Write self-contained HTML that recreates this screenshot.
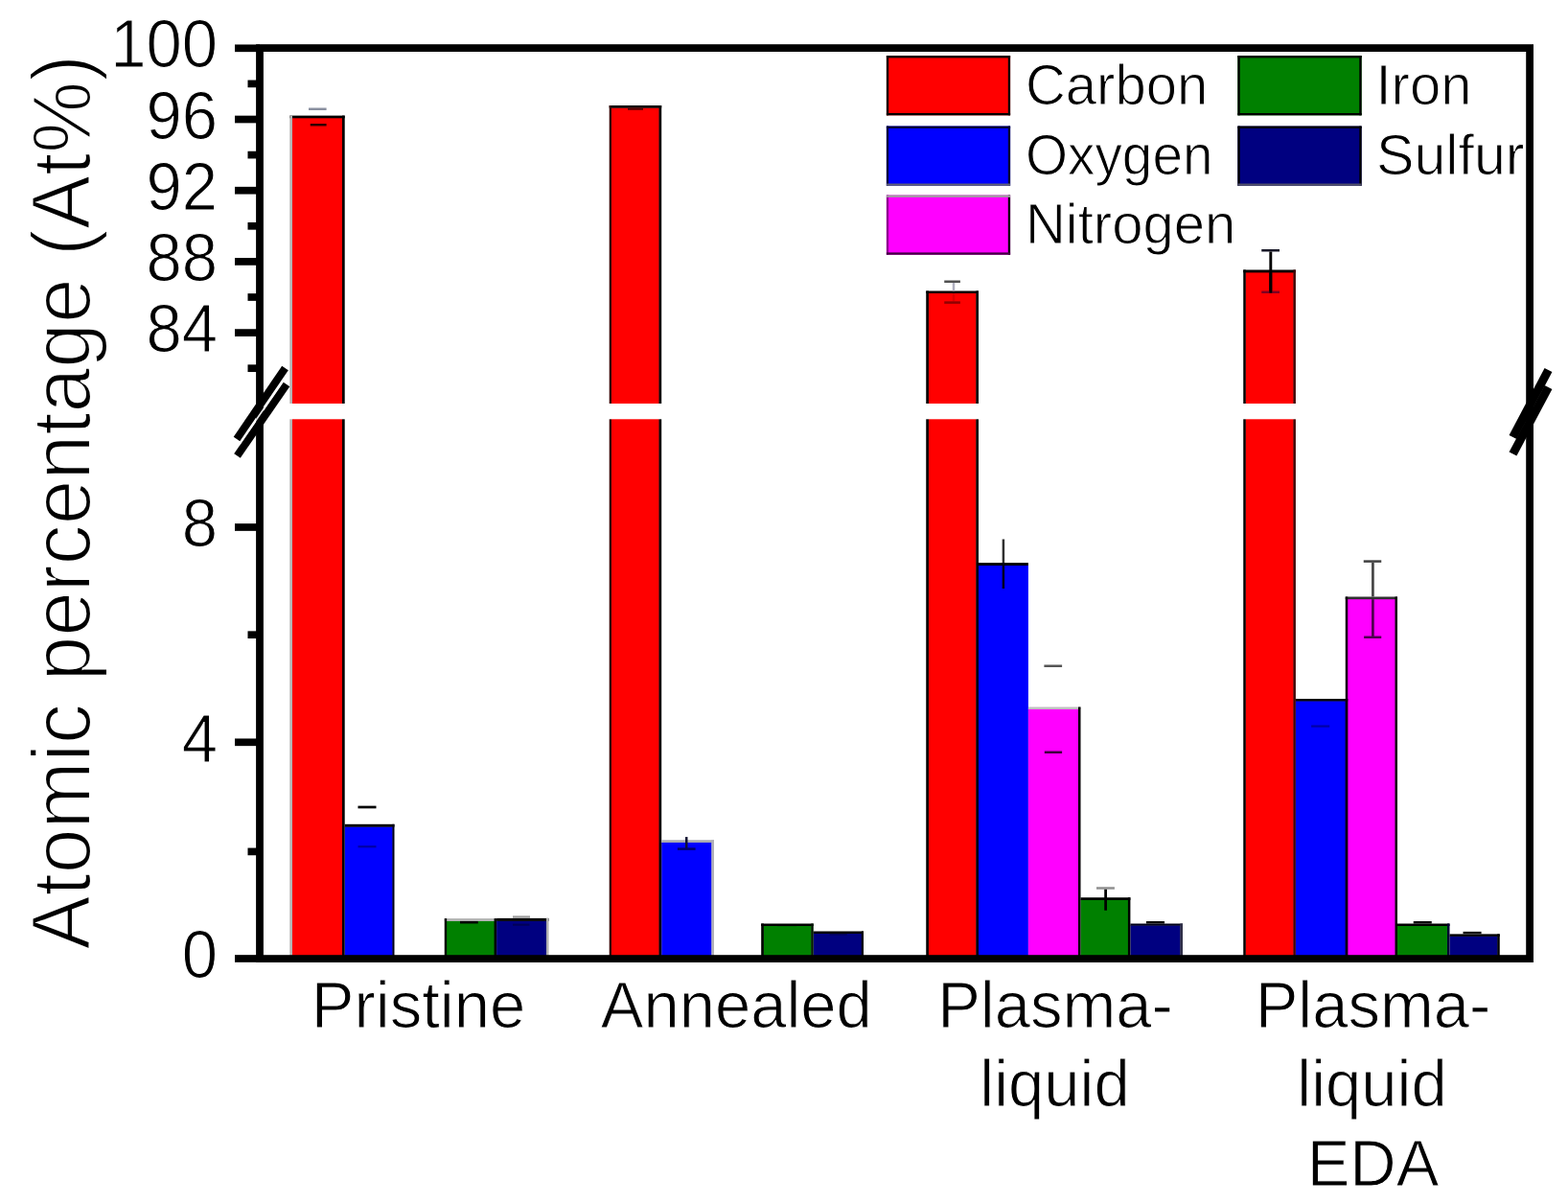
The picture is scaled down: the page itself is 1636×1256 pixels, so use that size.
<!DOCTYPE html>
<html lang="en"><head><meta charset="utf-8"><title>Atomic percentage chart</title>
<style>
html,body{margin:0;padding:0;background:#fff;}
body{width:1636px;height:1256px;overflow:hidden;}
svg{display:block;filter:blur(0.55px);}
text{font-family:"Liberation Sans",sans-serif;fill:#000;}
.tk{font-size:67px;stroke:#fff;stroke-width:1px;}
.lg{font-size:58px;stroke:#fff;stroke-width:1px;}
.yt{font-size:84px;stroke:#fff;stroke-width:2px;}
</style></head><body>
<svg width="1636" height="1256" viewBox="0 0 1636 1256">
<rect x="0" y="0" width="1636" height="1256" fill="#ffffff"/>
<g id="bars">
<rect x="304.60" y="122.90" width="52.80" height="877.20" fill="#ff0000"/>
<rect x="359.70" y="862.30" width="50.10" height="137.80" fill="#0000ff"/>
<rect x="465.75" y="960.60" width="50.25" height="39.50" fill="#008000"/>
<rect x="518.10" y="960.50" width="52.30" height="39.60" fill="#000080"/>
<rect x="637.60" y="112.30" width="50.30" height="887.80" fill="#ff0000"/>
<rect x="690.20" y="878.60" width="52.50" height="121.50" fill="#0000ff"/>
<rect x="796.50" y="965.60" width="50.15" height="34.50" fill="#008000"/>
<rect x="848.75" y="973.60" width="50.40" height="26.50" fill="#000080"/>
<rect x="968.55" y="305.60" width="50.15" height="694.50" fill="#ff0000"/>
<rect x="1021.00" y="589.60" width="51.90" height="410.50" fill="#0000ff"/>
<rect x="1072.90" y="739.60" width="52.50" height="260.50" fill="#ff00ff"/>
<rect x="1127.50" y="938.60" width="49.80" height="61.50" fill="#008000"/>
<rect x="1179.40" y="965.20" width="52.30" height="34.90" fill="#000080"/>
<rect x="1299.35" y="284.00" width="50.45" height="716.10" fill="#ff0000"/>
<rect x="1351.90" y="731.10" width="52.30" height="269.00" fill="#0000ff"/>
<rect x="1405.85" y="624.80" width="50.05" height="375.30" fill="#ff00ff"/>
<rect x="1458.00" y="965.60" width="52.40" height="34.50" fill="#008000"/>
<rect x="1512.50" y="976.50" width="50.15" height="23.60" fill="#000080"/>
<rect x="302.30" y="120.60" width="57.40" height="2.70" fill="#000000"/>
<rect x="302.30" y="120.60" width="2.70" height="879.50" fill="#b4b4b4"/>
<rect x="357.00" y="120.60" width="2.70" height="879.50" fill="#000000"/>
<rect x="359.70" y="859.80" width="51.80" height="2.90" fill="#000000"/>
<rect x="409.40" y="859.80" width="2.10" height="140.30" fill="#000018"/>
<rect x="463.75" y="958.10" width="54.35" height="2.90" fill="#b4b4b4"/>
<rect x="463.75" y="958.10" width="2.40" height="42.00" fill="#000000"/>
<rect x="515.60" y="958.10" width="2.50" height="42.00" fill="#000000"/>
<rect x="518.10" y="957.90" width="54.40" height="3.00" fill="#000000"/>
<rect x="570.00" y="957.90" width="2.50" height="42.20" fill="#b0b0b0"/>
<rect x="635.70" y="110.00" width="54.50" height="2.70" fill="#000000"/>
<rect x="635.70" y="110.00" width="2.30" height="890.10" fill="#300000"/>
<rect x="687.50" y="110.00" width="2.70" height="890.10" fill="#000000"/>
<rect x="690.20" y="876.30" width="54.80" height="2.70" fill="#a8a8b0"/>
<rect x="742.30" y="876.30" width="2.70" height="123.80" fill="#b0b0b8"/>
<rect x="794.20" y="963.50" width="54.55" height="2.50" fill="#000000"/>
<rect x="794.20" y="963.50" width="2.70" height="36.60" fill="#000000"/>
<rect x="846.25" y="963.50" width="2.50" height="36.60" fill="#001800"/>
<rect x="848.75" y="971.50" width="52.25" height="2.50" fill="#000000"/>
<rect x="898.75" y="971.50" width="2.25" height="28.60" fill="#000000"/>
<rect x="966.25" y="303.50" width="54.75" height="2.50" fill="#000000"/>
<rect x="966.25" y="303.50" width="2.70" height="696.60" fill="#000000"/>
<rect x="1018.30" y="303.50" width="2.70" height="696.60" fill="#000000"/>
<rect x="1021.00" y="587.10" width="51.90" height="2.90" fill="#000000"/>
<rect x="1072.90" y="737.50" width="54.60" height="2.50" fill="#c0c0c0"/>
<rect x="1125.00" y="737.50" width="2.50" height="262.60" fill="#000000"/>
<rect x="1127.50" y="936.25" width="51.90" height="2.75" fill="#000000"/>
<rect x="1176.90" y="936.25" width="2.50" height="63.85" fill="#000000"/>
<rect x="1179.40" y="963.50" width="54.60" height="2.10" fill="#000018"/>
<rect x="1231.30" y="963.50" width="2.70" height="36.60" fill="#303048"/>
<rect x="1297.25" y="281.50" width="54.65" height="2.90" fill="#000000"/>
<rect x="1297.25" y="281.50" width="2.50" height="718.60" fill="#000000"/>
<rect x="1349.40" y="281.50" width="2.50" height="718.60" fill="#400000"/>
<rect x="1351.90" y="729.00" width="54.30" height="2.50" fill="#000000"/>
<rect x="1403.80" y="729.00" width="2.40" height="271.10" fill="#100018"/>
<rect x="1403.75" y="622.50" width="54.25" height="2.70" fill="#303030"/>
<rect x="1403.75" y="622.50" width="2.50" height="377.60" fill="#0c000c"/>
<rect x="1455.50" y="622.50" width="2.50" height="377.60" fill="#000000"/>
<rect x="1458.00" y="963.50" width="54.50" height="2.50" fill="#000000"/>
<rect x="1510.00" y="963.50" width="2.50" height="36.60" fill="#000030"/>
<rect x="1512.50" y="974.40" width="52.25" height="2.50" fill="#000000"/>
<rect x="1562.25" y="974.40" width="2.50" height="25.70" fill="#000000"/>
</g>
<g id="bar-breaks">
<rect x="301.30" y="421.00" width="59.40" height="16.30" fill="#ffffff"/>
<rect x="634.70" y="421.00" width="56.50" height="16.30" fill="#ffffff"/>
<rect x="965.25" y="421.00" width="56.75" height="16.30" fill="#ffffff"/>
<rect x="1296.25" y="421.00" width="56.65" height="16.30" fill="#ffffff"/>
</g>
<g id="errorbars">
<rect x="322.00" y="112.50" width="18.60" height="2.50" fill="#8a90a0"/>
<rect x="323.75" y="129.00" width="16.85" height="2.50" fill="#300000"/>
<rect x="373.50" y="840.65" width="19.00" height="2.70" fill="#000000"/>
<rect x="373.50" y="882.05" width="19.00" height="2.30" fill="#0000a8"/>
<rect x="480.00" y="960.95" width="18.75" height="2.50" fill="#000000"/>
<rect x="535.00" y="955.35" width="18.00" height="2.50" fill="#a0a0a0"/>
<rect x="535.00" y="963.70" width="17.50" height="2.00" fill="#000058"/>
<rect x="655.00" y="112.75" width="16.00" height="2.00" fill="#500000"/>
<rect x="715.00" y="873.10" width="2.50" height="12.90" fill="#101030"/>
<rect x="706.90" y="884.35" width="18.70" height="2.50" fill="#000068"/>
<rect x="811.00" y="964.30" width="20.00" height="1.80" fill="#000000"/>
<rect x="865.60" y="973.95" width="18.15" height="1.60" fill="#000058"/>
<rect x="985.25" y="292.50" width="16.65" height="2.50" fill="#505050"/>
<rect x="993.75" y="295.00" width="2.50" height="8.50" fill="#b0b0c0"/>
<rect x="993.75" y="306.00" width="2.50" height="8.40" fill="#e00000"/>
<rect x="985.25" y="314.35" width="16.65" height="2.50" fill="#900000"/>
<rect x="1045.65" y="562.50" width="2.50" height="24.60" fill="#303030"/>
<rect x="1045.65" y="587.10" width="2.50" height="26.90" fill="#000018"/>
<rect x="1089.40" y="693.50" width="18.70" height="2.50" fill="#555555"/>
<rect x="1089.80" y="783.50" width="18.30" height="2.50" fill="#400040"/>
<rect x="1144.00" y="925.25" width="18.90" height="2.50" fill="#909090"/>
<rect x="1152.22" y="927.75" width="2.75" height="22.00" fill="#000000"/>
<rect x="1196.00" y="961.00" width="19.00" height="2.50" fill="#000000"/>
<rect x="1316.25" y="260.00" width="18.75" height="2.50" fill="#181828"/>
<rect x="1324.35" y="262.50" width="2.90" height="43.10" fill="#000000"/>
<rect x="1316.25" y="303.50" width="18.75" height="2.50" fill="#800020"/>
<rect x="1324.35" y="284.40" width="2.90" height="21.20" fill="#000000"/>
<rect x="1368.10" y="756.45" width="19.15" height="2.30" fill="#0000a8"/>
<rect x="1422.75" y="584.35" width="18.50" height="2.50" fill="#404040"/>
<rect x="1431.03" y="586.90" width="2.75" height="35.60" fill="#484848"/>
<rect x="1431.03" y="625.20" width="2.75" height="40.40" fill="#500050"/>
<rect x="1423.10" y="663.50" width="18.15" height="2.50" fill="#500050"/>
<rect x="1474.75" y="961.00" width="19.00" height="2.50" fill="#000000"/>
<rect x="1526.50" y="971.85" width="19.10" height="2.50" fill="#101010"/>
</g>
<g id="axes" stroke="#000" fill="none">
<rect x="271.00" y="50.10" width="1325.10" height="950.00" stroke-width="7.80"/>
<line x1="245.0" y1="50.30" x2="271.0" y2="50.30" stroke-width="7.7"/>
<line x1="245.0" y1="124.50" x2="271.0" y2="124.50" stroke-width="7.7"/>
<line x1="245.0" y1="198.70" x2="271.0" y2="198.70" stroke-width="7.7"/>
<line x1="245.0" y1="272.90" x2="271.0" y2="272.90" stroke-width="7.7"/>
<line x1="245.0" y1="347.10" x2="271.0" y2="347.10" stroke-width="7.7"/>
<line x1="258.5" y1="87.40" x2="271.0" y2="87.40" stroke-width="7.7"/>
<line x1="258.5" y1="161.60" x2="271.0" y2="161.60" stroke-width="7.7"/>
<line x1="258.5" y1="235.80" x2="271.0" y2="235.80" stroke-width="7.7"/>
<line x1="258.5" y1="310.00" x2="271.0" y2="310.00" stroke-width="7.7"/>
<line x1="258.5" y1="384.20" x2="271.0" y2="384.20" stroke-width="7.7"/>
<line x1="245.0" y1="1000.00" x2="271.0" y2="1000.00" stroke-width="7.7"/>
<line x1="245.0" y1="774.30" x2="271.0" y2="774.30" stroke-width="7.7"/>
<line x1="245.0" y1="550.00" x2="271.0" y2="550.00" stroke-width="7.7"/>
<line x1="258.5" y1="888.40" x2="271.0" y2="888.40" stroke-width="7.7"/>
<line x1="258.5" y1="662.20" x2="271.0" y2="662.20" stroke-width="7.7"/>
</g>
<g id="breaks" stroke="#000" stroke-linecap="butt">
<line x1="247.0" y1="458.0" x2="297.5" y2="384.0" stroke-width="8.0"/>
<line x1="247.5" y1="475.5" x2="299.0" y2="401.0" stroke-width="8.0"/>
<line x1="249.5" y1="463.9" x2="296.0" y2="396.2" stroke="#fff" stroke-width="1.7" stroke-opacity="0.9"/>
<line x1="1578.5" y1="456.0" x2="1615.5" y2="386.0" stroke-width="8.9"/>
<line x1="1578.5" y1="473.5" x2="1615.5" y2="404.0" stroke-width="8.9"/>
</g>
<g id="ylabels" class="tk" text-anchor="end">
<text transform="translate(227 70.3) scale(1 1.05)">100</text>
<text transform="translate(227 144.5) scale(1 1.05)">96</text>
<text transform="translate(227 218.7) scale(1 1.05)">92</text>
<text transform="translate(227 292.9) scale(1 1.05)">88</text>
<text transform="translate(227 367.1) scale(1 1.05)">84</text>
<text transform="translate(227 570.3) scale(1 1.05)">8</text>
<text transform="translate(227 795.3) scale(1 1.05)">4</text>
<text transform="translate(227 1020.3) scale(1 1.05)">0</text>
</g>
<text class="yt" text-anchor="middle" transform="translate(94.3 523.8) rotate(-90) scale(1 1.03)">Atomic percentage (At%)</text>
<g id="xlabels" class="tk" text-anchor="middle">
<text transform="translate(436.5 1072) scale(1 1.03)">Pristine</text>
<text transform="translate(768.3 1072) scale(1 1.03)">Annealed</text>
<text transform="translate(1101 1072) scale(1 1.03)">Plasma-</text>
<text transform="translate(1100.5 1154) scale(1 1.03)">liquid</text>
<text transform="translate(1432.5 1072) scale(1 1.03)">Plasma-</text>
<text transform="translate(1431.5 1154) scale(1 1.03)">liquid</text>
<text transform="translate(1432.5 1237.3) scale(1 1.03)">EDA</text>
</g>
<g id="legend">
<rect x="924.90" y="58.10" width="129.20" height="62.20" fill="#ff0000"/>
<rect x="924.90" y="58.10" width="2.30" height="62.20" fill="#000000"/>
<rect x="1051.80" y="58.10" width="2.30" height="62.20" fill="#000000"/>
<rect x="924.90" y="58.10" width="129.20" height="2.30" fill="#000000"/>
<rect x="924.90" y="118.00" width="129.20" height="2.30" fill="#000000"/>
<rect x="924.90" y="131.60" width="129.20" height="62.20" fill="#0000ff"/>
<rect x="924.90" y="131.60" width="2.30" height="62.20" fill="#000040"/>
<rect x="1051.80" y="131.60" width="2.30" height="62.20" fill="#000030"/>
<rect x="924.90" y="131.60" width="129.20" height="2.30" fill="#000030"/>
<rect x="924.90" y="191.50" width="129.20" height="2.30" fill="#606078"/>
<rect x="924.90" y="203.50" width="129.20" height="62.20" fill="#ff00ff"/>
<rect x="924.90" y="203.50" width="2.30" height="62.20" fill="#900090"/>
<rect x="1051.80" y="203.50" width="2.30" height="62.20" fill="#000000"/>
<rect x="924.90" y="203.50" width="129.20" height="2.30" fill="#a0a0a0"/>
<rect x="924.90" y="263.40" width="129.20" height="2.30" fill="#400040"/>
<rect x="1291.40" y="58.10" width="129.20" height="62.20" fill="#008000"/>
<rect x="1291.40" y="58.10" width="2.30" height="62.20" fill="#000000"/>
<rect x="1418.30" y="58.10" width="2.30" height="62.20" fill="#000000"/>
<rect x="1291.40" y="58.10" width="129.20" height="2.30" fill="#000000"/>
<rect x="1291.40" y="118.00" width="129.20" height="2.30" fill="#000000"/>
<rect x="1291.40" y="131.60" width="129.20" height="62.20" fill="#000080"/>
<rect x="1291.40" y="131.60" width="2.30" height="62.20" fill="#000000"/>
<rect x="1418.30" y="131.60" width="2.30" height="62.20" fill="#000000"/>
<rect x="1291.40" y="131.60" width="129.20" height="2.30" fill="#000000"/>
<rect x="1291.40" y="191.50" width="129.20" height="2.30" fill="#50506a"/>
<g class="lg">
<text transform="translate(1070 109.3) scale(1 1.03)">Carbon</text>
<text transform="translate(1070 182) scale(0.978 1.03)">Oxygen</text>
<text transform="translate(1070 253.8) scale(1 1.03)">Nitrogen</text>
<text transform="translate(1435.5 109.3) scale(1 1.03)">Iron</text>
<text transform="translate(1436 182) scale(1.02 1.03)">Sulfur</text>
</g></g>
</svg>
</body></html>
